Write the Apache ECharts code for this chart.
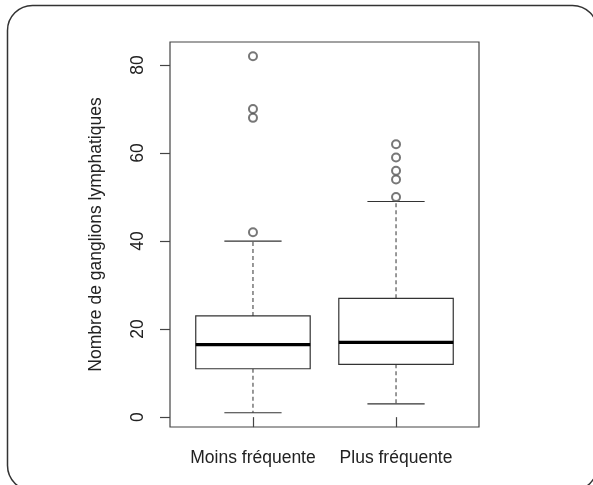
<!DOCTYPE html>
<html>
<head>
<meta charset="utf-8">
<script src="https://cdn.jsdelivr.net/npm/echarts@6/dist/echarts.min.js"></script>
<style>html,body{margin:0;padding:0;background:#fff;}#c{width:593px;height:485px;}</style>
</head>
<body>
<div id="c"></div>
<script>
var categories = ['Moins fréquente', 'Plus fréquente'];
var whiskerLow = [1, 3];
var q1 = [11, 12];
var median = [16.5, 17];
var q3 = [23, 27];
var whiskerHigh = [40, 49];
var outliers1 = [42, 68, 70, 82];
var outliers2 = [50, 54, 56, 59, 62];
var yTicks = [0, 20, 40, 60, 80];
var yTitle = 'Nombre de ganglions lymphatiques';

var boxData = categories.map(function (c, i) {
  return [i + 1, whiskerLow[i], q1[i], median[i], q3[i], whiskerHigh[i]];
});
var outlierData = [];
outliers1.forEach(function (v) { outlierData.push([1, v]); });
outliers2.forEach(function (v) { outlierData.push([2, v]); });

var FONT = '"Liberation Sans", Arial, sans-serif';
var chart = echarts.init(document.getElementById('c'), null, {renderer: 'canvas'});

function renderBox(params, api) {
  var x = api.value(0);
  var lo = api.coord([x, api.value(1)]);
  var b1 = api.coord([x, api.value(2)]);
  var md = api.coord([x, api.value(3)]);
  var b3 = api.coord([x, api.value(4)]);
  var hi = api.coord([x, api.value(5)]);
  var boxL = api.coord([x - 0.4, 0])[0];
  var boxR = api.coord([x + 0.4, 0])[0];
  var capL = api.coord([x - 0.2, 0])[0];
  var capR = api.coord([x + 0.2, 0])[0];
  var cx = lo[0];
  var line = {stroke: '#333', lineWidth: 1.2};
  var dashed = {stroke: '#555', lineWidth: 1.2, lineDash: [4, 3]};
  return {
    type: 'group',
    children: [
      {type: 'line', shape: {x1: cx, y1: b3[1], x2: cx, y2: hi[1]}, style: dashed},
      {type: 'line', shape: {x1: cx, y1: b1[1], x2: cx, y2: lo[1]}, style: dashed},
      {type: 'line', shape: {x1: capL, y1: hi[1], x2: capR, y2: hi[1]}, style: line},
      {type: 'line', shape: {x1: capL, y1: lo[1], x2: capR, y2: lo[1]}, style: line},
      {type: 'rect', shape: {x: boxL, y: b3[1], width: boxR - boxL, height: b1[1] - b3[1]}, style: {fill: '#fff', stroke: '#333', lineWidth: 1.2}},
      {type: 'line', shape: {x1: boxL, y1: md[1], x2: boxR, y2: md[1]}, style: {stroke: '#000', lineWidth: 3.2}}
    ]
  };
}

chart.setOption({
  animation: false,
  backgroundColor: '#fff',
  graphic: [{
    type: 'rect',
    shape: {x: 7.5, y: 5.5, width: 590, height: 485, r: 25},
    style: {fill: 'none', stroke: '#333', lineWidth: 1.5},
    z: 100
  }],
  grid: {left: 170, right: 114, top: 42, bottom: 58, show: true, borderColor: '#444', borderWidth: 1.2, backgroundColor: 'transparent'},
  xAxis: {
    type: 'value', min: 0.42, max: 2.58,
    splitLine: {show: false},
    axisLine: {show: false},
    axisTick: {show: true, inside: false, length: 10, lineStyle: {color: '#444', width: 1.2}, customValues: [1, 2]},
    axisLabel: {
      customValues: [1, 2], margin: 22,
      formatter: function (v) { return categories[Math.round(v) - 1]; },
      fontFamily: FONT, fontSize: 17.5, color: '#222'
    }
  },
  yAxis: {
    type: 'value', min: -2.24, max: 85.24,
    name: yTitle, nameLocation: 'middle', nameRotate: 90, nameGap: 65,
    nameTextStyle: {fontFamily: FONT, fontSize: 17.5, color: '#222'},
    splitLine: {show: false},
    axisLine: {show: false},
    axisTick: {show: true, inside: false, length: 10, lineStyle: {color: '#444', width: 1.2}, customValues: yTicks},
    axisLabel: {customValues: yTicks, rotate: 90, margin: 23, fontFamily: FONT, fontSize: 17.5, color: '#222'}
  },
  series: [
    {type: 'custom', renderItem: renderBox, data: boxData, encode: {x: 0, y: [1, 2, 3, 4, 5]}, z: 2},
    {type: 'scatter', data: outlierData, symbol: 'emptyCircle', symbolSize: 8,
     itemStyle: {color: '#555', borderColor: '#555', borderWidth: 1}, z: 3}
  ]
});
</script>
</body>
</html>
